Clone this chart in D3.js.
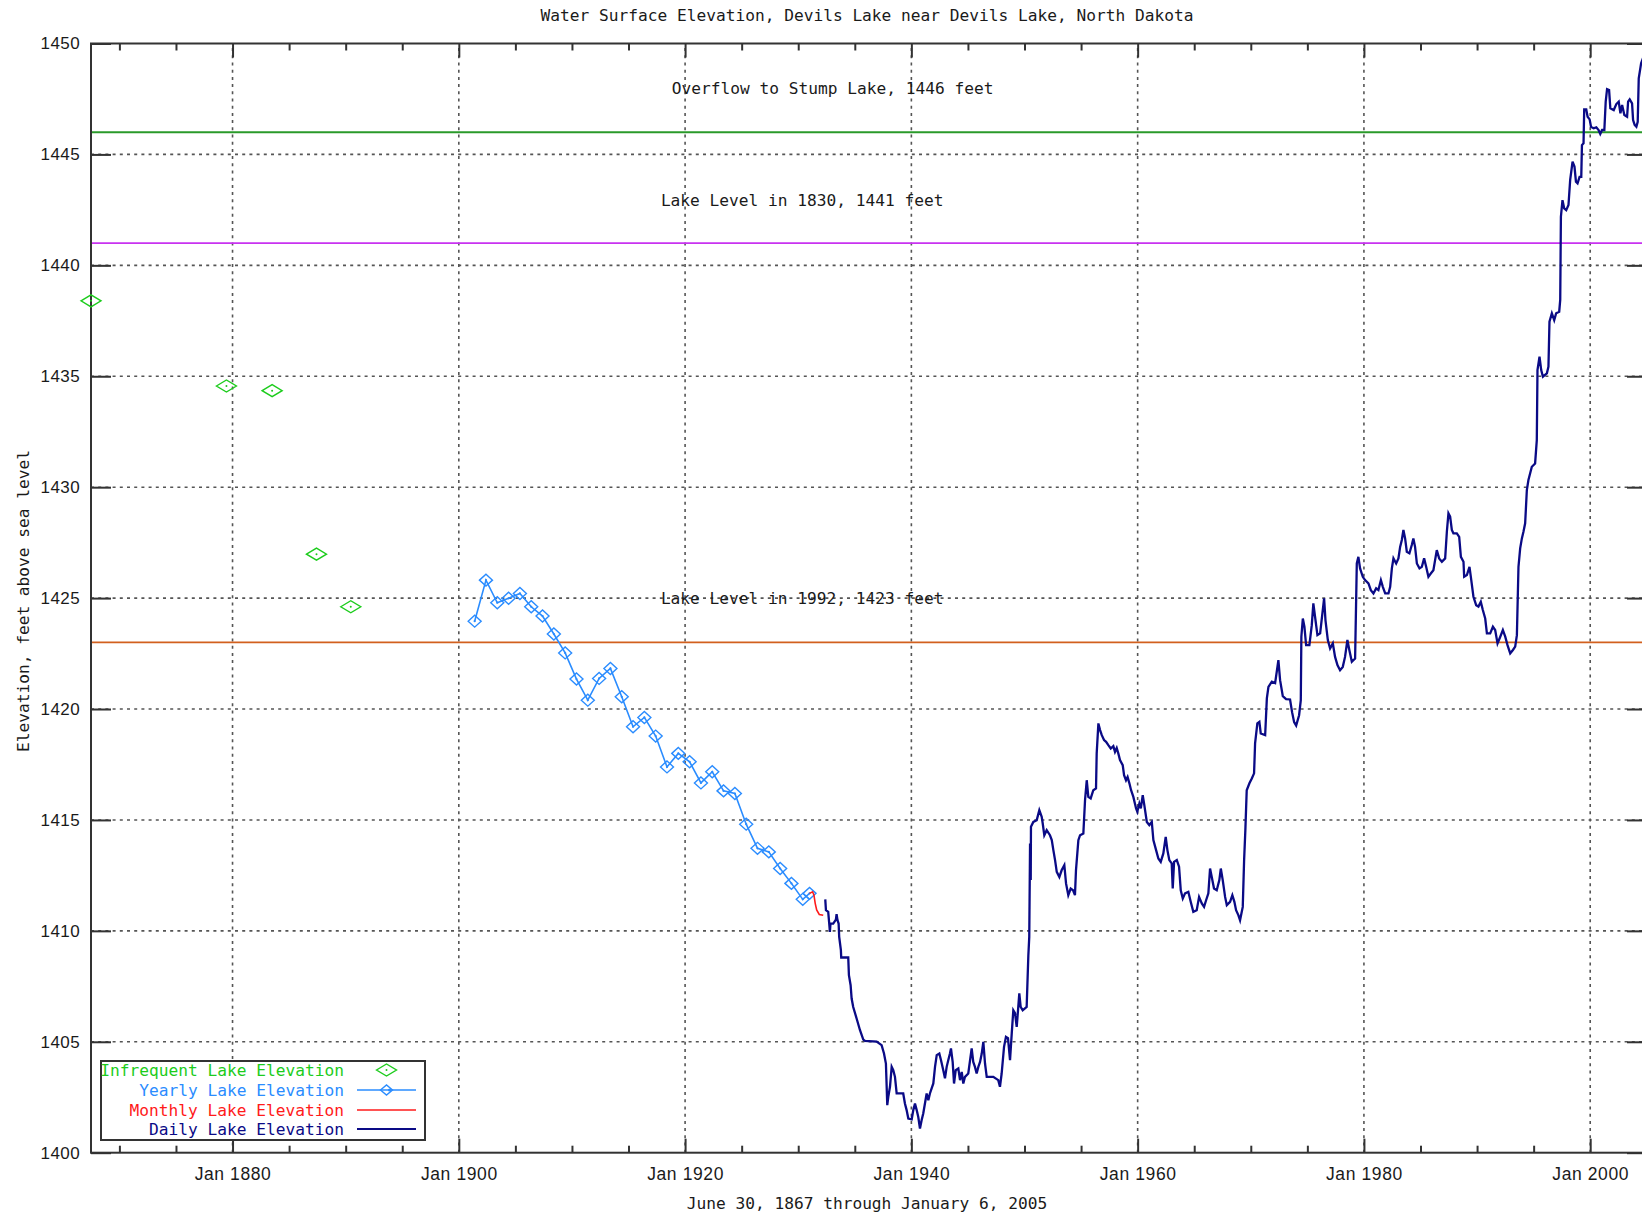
<!DOCTYPE html>
<html><head><meta charset="utf-8">
<script src="https://cdn.jsdelivr.net/npm/d3@7"></script>
<style>body{margin:0;background:#fff;overflow:hidden} svg{display:block}</style>
</head><body>
<svg id="chart" width="1642" height="1214"></svg>
<script>
// ---------------- DATA ----------------
const titleText = "Water Surface Elevation, Devils Lake near Devils Lake, North Dakota";
const xAxisTitle = "June 30, 1867 through January 6, 2005";
const yAxisTitle = "Elevation, feet above sea level";
const xDomain = [1867.49, 2005.02];           // June 30, 1867 .. January 6, 2005
const yDomain = [1400, 1450];
const xMajorTicks = [1880, 1900, 1920, 1940, 1960, 1980, 2000];
const xMinorTicks = [1870, 1875, 1885, 1890, 1895, 1905, 1910, 1915, 1925, 1930, 1935, 1945, 1950, 1955, 1965, 1970, 1975, 1985, 1990, 1995];
const yTicks = [1400, 1405, 1410, 1415, 1420, 1425, 1430, 1435, 1440, 1445, 1450];

const refLevels = [1446, 1441, 1423];
const refLabels = ["Overflow to Stump Lake, 1446 feet", "Lake Level in 1830, 1441 feet", "Lake Level in 1992, 1423 feet"];

const legendNames = ["Infrequent Lake Elevation", "Yearly Lake Elevation", "Monthly Lake Elevation", "Daily Lake Elevation"];

const infrequentYears = [1867.49, 1879.46, 1883.50, 1887.42, 1890.45];
const infrequentLevels = [1438.40, 1434.56, 1434.35, 1426.98, 1424.61];

const yearlyYears = [1901.4, 1902.4, 1903.4, 1904.4, 1905.4, 1906.4, 1907.4, 1908.4, 1909.4, 1910.4,
  1911.4, 1912.4, 1913.4, 1914.4, 1915.4, 1916.4, 1917.4, 1918.4, 1919.4, 1920.4,
  1921.4, 1922.4, 1923.4, 1924.4, 1925.4, 1926.4, 1927.4, 1928.4, 1929.4, 1930.4, 1931.0];
const yearlyLevels = [1423.96, 1425.81, 1424.79, 1424.99, 1425.21, 1424.61, 1424.19, 1423.38, 1422.53, 1421.35,
  1420.40, 1421.38, 1421.83, 1420.55, 1419.20, 1419.62, 1418.78, 1417.39, 1418.00, 1417.62,
  1416.67, 1417.17, 1416.31, 1416.19, 1414.81, 1413.72, 1413.56, 1412.81, 1412.14, 1411.42, 1411.69];

const monthlyYears = [1931.0, 1931.27, 1931.39, 1931.50, 1931.63, 1931.86, 1932.21];
const monthlyLevels = [1411.69, 1411.76, 1411.61, 1411.24, 1410.94, 1410.74, 1410.70];

const dailySeries = [
 [1932.39,1411.42],[1932.45,1410.93],[1932.65,1410.86],[1932.74,1410.33],[1932.80,1409.95],[1932.85,1410.33],
 [1933.09,1410.33],[1933.33,1410.51],[1933.39,1410.75],[1933.47,1410.48],[1933.57,1410.33],[1933.62,1409.73],
 [1933.77,1409.13],[1933.80,1408.80],[1934.42,1408.80],[1934.48,1408.00],[1934.63,1407.55],[1934.72,1406.95],
 [1934.86,1406.57],[1935.16,1406.05],[1935.46,1405.52],[1935.75,1405.10],[1935.90,1405.04],[1936.93,1405.01],
 [1937.37,1404.85],[1937.58,1404.47],[1937.75,1404.02],[1937.87,1402.14],[1937.96,1402.52],[1938.11,1402.97],
 [1938.26,1403.87],[1938.40,1403.72],[1938.55,1403.42],[1938.70,1402.67],[1939.28,1402.67],[1939.43,1402.22],
 [1939.58,1401.92],[1939.73,1401.54],[1940.03,1401.50],[1940.17,1401.92],[1940.32,1402.22],[1940.47,1401.92],
 [1940.61,1401.61],[1940.76,1401.09],[1940.91,1401.47],[1941.05,1401.77],[1941.35,1402.67],[1941.50,1402.37],
 [1941.64,1402.67],[1941.94,1403.12],[1942.09,1403.87],[1942.24,1404.40],[1942.47,1404.47],[1942.62,1404.17],
 [1942.82,1403.72],[1942.97,1403.35],[1943.12,1403.87],[1943.26,1404.17],[1943.41,1404.47],[1943.50,1404.70],
 [1943.65,1404.09],[1943.77,1403.12],[1943.92,1403.72],[1944.15,1403.80],[1944.30,1403.27],[1944.45,1403.64],
 [1944.59,1403.12],[1944.74,1403.42],[1945.03,1403.57],[1945.33,1404.70],[1945.47,1404.09],[1945.62,1403.87],
 [1945.77,1403.57],[1945.92,1403.87],[1946.07,1404.09],[1946.22,1404.47],[1946.36,1405.00],[1946.51,1404.02],
 [1946.66,1403.42],[1947.24,1403.42],[1947.68,1403.27],[1947.83,1402.97],[1947.98,1403.57],[1948.19,1404.77],
 [1948.36,1405.22],[1948.54,1405.16],[1948.72,1404.17],[1948.87,1405.37],[1949.01,1406.42],[1949.16,1406.29],
 [1949.31,1405.67],[1949.45,1406.57],[1949.54,1407.18],[1949.66,1406.57],[1949.84,1406.42],[1950.19,1406.57],
 [1950.34,1408.90],[1950.42,1409.73],[1950.49,1413.94],[1950.55,1412.29],[1950.57,1414.69],[1950.78,1414.91],
 [1951.08,1414.99],[1951.31,1415.44],[1951.52,1415.14],[1951.61,1414.84],[1951.75,1414.31],[1951.96,1414.54],
 [1952.25,1414.31],[1952.41,1414.09],[1952.55,1413.64],[1952.70,1413.19],[1952.85,1412.66],[1953.08,1412.43],
 [1953.29,1412.74],[1953.52,1412.96],[1953.67,1412.14],[1953.87,1411.61],[1954.08,1411.91],[1954.29,1411.83],
 [1954.46,1411.61],[1954.55,1412.74],[1954.76,1414.09],[1954.91,1414.31],[1955.20,1414.39],[1955.35,1415.89],
 [1955.50,1416.79],[1955.64,1416.04],[1955.85,1415.97],[1956.08,1416.34],[1956.32,1416.42],[1956.38,1418.00],
 [1956.53,1419.35],[1956.68,1419.05],[1956.83,1418.82],[1957.03,1418.60],[1957.21,1418.52],[1957.41,1418.37],
 [1957.62,1418.22],[1957.85,1418.33],[1958.00,1418.07],[1958.15,1418.24],[1958.29,1418.00],[1958.44,1417.70],
 [1958.68,1417.47],[1958.80,1417.02],[1958.97,1416.79],[1959.11,1416.94],[1959.27,1416.65],[1959.42,1416.34],
 [1959.62,1416.04],[1959.86,1415.52],[1959.97,1415.37],[1960.15,1415.74],[1960.28,1415.52],[1960.45,1416.12],
 [1960.59,1415.67],[1960.81,1414.91],[1961.03,1414.77],[1961.25,1414.91],[1961.39,1414.09],[1961.63,1413.64],
 [1961.83,1413.26],[1962.04,1413.11],[1962.27,1413.49],[1962.48,1414.24],[1962.63,1413.64],[1962.80,1413.19],
 [1963.01,1413.04],[1963.10,1411.91],[1963.22,1413.11],[1963.46,1413.19],[1963.66,1412.89],[1963.81,1411.83],
 [1963.99,1411.46],[1964.19,1411.69],[1964.48,1411.76],[1964.69,1411.31],[1964.92,1410.86],[1965.22,1410.93],
 [1965.43,1411.53],[1965.67,1411.24],[1965.87,1411.08],[1966.05,1411.38],[1966.25,1411.69],[1966.40,1412.81],
 [1966.55,1412.43],[1966.75,1411.91],[1966.99,1411.83],[1967.22,1412.29],[1967.35,1412.81],[1967.52,1412.29],
 [1967.73,1411.53],[1967.88,1411.16],[1968.17,1411.31],[1968.37,1411.61],[1968.55,1411.31],[1968.70,1410.93],
 [1968.90,1410.71],[1969.05,1410.48],[1969.29,1411.08],[1969.41,1413.19],[1969.52,1414.54],[1969.64,1416.34],
 [1969.88,1416.65],[1970.09,1416.87],[1970.29,1417.10],[1970.38,1418.45],[1970.58,1419.35],[1970.76,1419.42],
 [1970.88,1418.90],[1971.27,1418.82],[1971.42,1420.48],[1971.56,1421.00],[1971.86,1421.23],[1972.15,1421.17],
 [1972.44,1422.20],[1972.59,1421.30],[1972.83,1420.58],[1973.12,1420.45],[1973.47,1420.43],[1973.65,1419.86],
 [1973.83,1419.41],[1974.01,1419.25],[1974.27,1419.72],[1974.42,1420.40],[1974.47,1423.26],[1974.60,1424.08],
 [1974.74,1423.71],[1974.89,1422.88],[1975.18,1422.88],[1975.39,1423.78],[1975.53,1424.76],[1975.68,1424.16],
 [1975.89,1423.33],[1976.13,1423.41],[1976.33,1424.31],[1976.48,1424.99],[1976.60,1424.01],[1976.81,1423.11],
 [1977.01,1422.73],[1977.25,1422.96],[1977.45,1422.35],[1977.66,1421.98],[1977.89,1421.75],[1978.13,1421.90],
 [1978.33,1422.35],[1978.54,1423.11],[1978.71,1422.66],[1978.93,1422.13],[1979.22,1422.28],[1979.37,1426.56],
 [1979.51,1426.86],[1979.66,1426.34],[1979.90,1425.96],[1980.10,1425.81],[1980.40,1425.66],[1980.61,1425.36],
 [1980.84,1425.21],[1981.08,1425.44],[1981.28,1425.36],[1981.50,1425.81],[1981.67,1425.51],[1981.88,1425.21],
 [1982.17,1425.21],[1982.32,1425.51],[1982.47,1426.34],[1982.61,1426.79],[1982.85,1426.56],[1983.05,1426.79],
 [1983.20,1427.31],[1983.35,1427.62],[1983.49,1428.07],[1983.64,1427.69],[1983.79,1427.09],[1984.02,1427.02],
 [1984.23,1427.39],[1984.37,1427.69],[1984.52,1427.31],[1984.68,1426.56],[1984.91,1426.34],[1985.12,1426.41],
 [1985.32,1426.79],[1985.50,1426.41],[1985.70,1425.96],[1985.91,1426.11],[1986.14,1426.26],[1986.29,1426.71],
 [1986.44,1427.16],[1986.65,1426.79],[1986.89,1426.64],[1987.18,1426.79],[1987.33,1427.99],[1987.47,1428.82],
 [1987.62,1428.67],[1987.77,1428.07],[1987.91,1427.92],[1988.21,1427.92],[1988.42,1427.76],[1988.57,1426.86],
 [1988.80,1426.64],[1988.86,1425.96],[1989.10,1426.04],[1989.33,1426.41],[1989.45,1425.96],[1989.68,1425.06],
 [1989.92,1424.68],[1990.12,1424.62],[1990.33,1424.83],[1990.51,1424.46],[1990.72,1424.08],[1990.87,1423.41],
 [1991.16,1423.41],[1991.40,1423.71],[1991.60,1423.56],[1991.81,1422.96],[1992.05,1423.26],[1992.28,1423.56],
 [1992.49,1423.26],[1992.69,1422.88],[1992.93,1422.51],[1993.17,1422.66],[1993.37,1422.81],[1993.52,1423.33],
 [1993.66,1426.41],[1993.81,1427.24],[1993.96,1427.69],[1994.10,1427.99],[1994.25,1428.37],[1994.40,1429.87],
 [1994.54,1430.32],[1994.84,1430.92],[1995.13,1431.07],[1995.28,1432.12],[1995.34,1435.28],[1995.52,1435.88],
 [1995.67,1435.28],[1995.82,1434.98],[1996.17,1435.13],[1996.31,1435.43],[1996.40,1437.46],[1996.61,1437.84],
 [1996.82,1437.53],[1996.99,1437.84],[1997.26,1437.91],[1997.35,1438.44],[1997.41,1442.19],[1997.55,1442.94],
 [1997.70,1442.57],[1997.88,1442.49],[1998.08,1442.72],[1998.23,1443.85],[1998.44,1444.67],[1998.61,1444.45],
 [1998.74,1443.77],[1998.88,1443.70],[1999.06,1443.99],[1999.21,1443.99],[1999.27,1445.42],[1999.41,1445.50],
 [1999.47,1447.03],[1999.65,1447.03],[1999.77,1446.70],[1999.95,1446.58],[2000.07,1446.25],[2000.30,1446.18],
 [2000.54,1446.22],[2000.74,1446.10],[2000.89,1445.92],[2001.05,1446.10],[2001.25,1446.10],[2001.37,1447.38],
 [2001.49,1447.94],[2001.67,1447.90],[2001.78,1447.08],[2002.08,1447.00],[2002.31,1447.27],[2002.52,1447.38],
 [2002.67,1446.85],[2002.82,1447.23],[2003.02,1446.78],[2003.26,1446.70],[2003.35,1447.38],[2003.49,1447.48],
 [2003.70,1447.30],[2003.79,1446.55],[2003.93,1446.33],[2004.08,1446.25],[2004.20,1446.47],[2004.29,1448.43],
 [2004.50,1449.11],[2004.61,1449.26],[2005.01,1449.00]
];

// ---------------- LAYOUT / STYLE ----------------
const W = 1642, H = 1214;
const plot = {left: 91, right: 1647, top: 43.5, bottom: 1152.7};
const colors = {
  infrequent: "#1ccc1c", yearly: "#2a8cff", monthly: "#ff1a1a", daily: "#0a0a86",
  ref: ["#2a9a2a", "#c832f0", "#d2601e"], grid: "#555", axis: "#333", text: "#1a1a1a"
};
const monoFont = "'DejaVu Sans Mono', 'Liberation Mono', monospace";
const tickFont = "'Liberation Sans', Arial, sans-serif";
const refLabelAnchors = [{year: 1918.83, level: 1447.95}, {year: 1917.86, level: 1442.94}, {year: 1917.86, level: 1425.0}];

const svg = d3.select("#chart");
svg.append("rect").attr("width", W).attr("height", H).attr("fill", "#fff");

const x = d3.scaleLinear().domain(xDomain).range([plot.left, plot.right]);
const y = d3.scaleLinear().domain(yDomain).range([plot.bottom, plot.top]);

// grid
const grid = svg.append("g").attr("stroke", colors.grid).attr("stroke-width", 1.6).attr("stroke-dasharray", "3,4.2");
grid.selectAll("line.v").data(xMajorTicks).join("line")
  .attr("x1", d => x(d)).attr("x2", d => x(d)).attr("y1", plot.bottom).attr("y2", plot.top);
grid.selectAll("line.h").data(yTicks.filter(t => t > yDomain[0] && t < yDomain[1])).join("line")
  .attr("y1", d => y(d)).attr("y2", d => y(d)).attr("x1", plot.left).attr("x2", plot.right);

// reference lines
svg.append("g").selectAll("line").data(refLevels).join("line")
  .attr("x1", plot.left).attr("x2", plot.right)
  .attr("y1", d => y(d)).attr("y2", d => y(d))
  .attr("stroke", (d, i) => colors.ref[i]).attr("stroke-width", 1.8);

// reference labels
svg.append("g").selectAll("text").data(refLabels).join("text")
  .attr("x", (d, i) => x(refLabelAnchors[i].year))
  .attr("y", (d, i) => y(refLabelAnchors[i].level))
  .attr("dominant-baseline", "central")
  .attr("font-family", monoFont).attr("font-size", 16.2).attr("fill", colors.text)
  .text(d => d);

// axes (left, bottom, top, right borders) with d3 axes for ticks
const axisG = svg.append("g");
function styleAxis(g) {
  g.select(".domain").remove();
  g.selectAll(".tick line").attr("stroke", colors.axis).attr("stroke-width", 2);
}
// bottom major
const bottomMajor = axisG.append("g").attr("transform", `translate(0,${plot.bottom})`)
  .call(d3.axisBottom(x).tickValues(xMajorTicks).tickSize(-14).tickFormat(d => "Jan " + d).tickPadding(15));
styleAxis(bottomMajor);
bottomMajor.selectAll(".tick text").attr("font-family", tickFont).attr("font-size", 17.5).attr("fill", colors.text).attr("letter-spacing", 0.6);
const bottomMinor = axisG.append("g").attr("transform", `translate(0,${plot.bottom})`)
  .call(d3.axisBottom(x).tickValues(xMinorTicks).tickSize(-7).tickFormat(""));
styleAxis(bottomMinor);
const topMajor = axisG.append("g").attr("transform", `translate(0,${plot.top})`)
  .call(d3.axisTop(x).tickValues(xMajorTicks).tickSize(-14).tickFormat(""));
styleAxis(topMajor);
const topMinor = axisG.append("g").attr("transform", `translate(0,${plot.top})`)
  .call(d3.axisTop(x).tickValues(xMinorTicks).tickSize(-7).tickFormat(""));
styleAxis(topMinor);
const leftAx = axisG.append("g").attr("transform", `translate(${plot.left},0)`)
  .call(d3.axisLeft(y).tickValues(yTicks).tickSize(-20).tickFormat(d3.format("d")).tickPadding(11));
styleAxis(leftAx);
leftAx.selectAll(".tick text").attr("font-family", tickFont).attr("font-size", 17).attr("fill", colors.text).attr("letter-spacing", 0.4);
const rightAx = axisG.append("g").attr("transform", `translate(${plot.right},0)`)
  .call(d3.axisRight(y).tickValues(yTicks).tickSize(-20).tickFormat(""));
styleAxis(rightAx);

// border
axisG.append("rect").attr("x", plot.left).attr("y", plot.top)
  .attr("width", plot.right - plot.left).attr("height", plot.bottom - plot.top)
  .attr("fill", "none").attr("stroke", colors.axis).attr("stroke-width", 2);

// diamond path generator (width 2*hw, height 2*hh) centred on (cx, cy)
function diamond(cx, cy, hw, hh) {
  return `M${cx - hw},${cy}L${cx},${cy - hh}L${cx + hw},${cy}L${cx},${cy + hh}Z`;
}

// yearly series
const yearlyData = yearlyYears.map((t, i) => ({t, v: yearlyLevels[i]}));
const lineGen = d3.line().x(d => x(d.t)).y(d => y(d.v));
svg.append("path").datum(yearlyData).attr("d", lineGen)
  .attr("fill", "none").attr("stroke", colors.yearly).attr("stroke-width", 1.6);
const yG = svg.append("g");
yG.selectAll("path").data(yearlyData).join("path")
  .attr("d", d => diamond(x(d.t), y(d.v), 6.5, 6))
  .attr("fill", "none").attr("stroke", colors.yearly).attr("stroke-width", 1.4);
yG.selectAll("circle").data(yearlyData).join("circle")
  .attr("cx", d => x(d.t)).attr("cy", d => y(d.v)).attr("r", 1.1).attr("fill", colors.yearly);

// monthly
const monthlyData = monthlyYears.map((t, i) => ({t, v: monthlyLevels[i]}));
svg.append("path").datum(monthlyData).attr("d", lineGen)
  .attr("fill", "none").attr("stroke", colors.monthly).attr("stroke-width", 1.6);

// daily
const dailyData = dailySeries.map(([t, v]) => ({t, v}));
svg.append("path").datum(dailyData).attr("d", lineGen)
  .attr("fill", "none").attr("stroke", colors.daily).attr("stroke-width", 2.3).attr("stroke-linejoin", "miter");

// infrequent
const infData = infrequentYears.map((t, i) => ({t, v: infrequentLevels[i]}));
const iG = svg.append("g");
iG.selectAll("path").data(infData).join("path")
  .attr("d", d => diamond(x(d.t), y(d.v), 10, 6))
  .attr("fill", "none").attr("stroke", colors.infrequent).attr("stroke-width", 1.4);
iG.selectAll("circle").data(infData).join("circle")
  .attr("cx", d => x(d.t)).attr("cy", d => y(d.v)).attr("r", 1).attr("fill", colors.infrequent);

// titles
svg.append("text").attr("x", 867).attr("y", 15).attr("text-anchor", "middle").attr("dominant-baseline", "central")
  .attr("font-family", monoFont).attr("font-size", 16.2).attr("fill", colors.text).text(titleText);
svg.append("text").attr("x", 867).attr("y", 1203).attr("text-anchor", "middle").attr("dominant-baseline", "central")
  .attr("font-family", monoFont).attr("font-size", 16.2).attr("fill", colors.text).text(xAxisTitle);
svg.append("text").attr("transform", "translate(23,601) rotate(-90)").attr("text-anchor", "middle").attr("dominant-baseline", "central")
  .attr("font-family", monoFont).attr("font-size", 16.2).attr("fill", colors.text).text(yAxisTitle);

// legend
const legend = {x0: 101, y0: 1061, x1: 425, y1: 1140, textRight: 344, sx0: 357, sx1: 416, rows: [1070, 1090, 1110, 1129]};
const lg = svg.append("g");
lg.append("rect").attr("x", legend.x0).attr("y", legend.y0).attr("width", legend.x1 - legend.x0).attr("height", legend.y1 - legend.y0)
  .attr("fill", "#fff").attr("stroke", colors.axis).attr("stroke-width", 2);
const legendColors = [colors.infrequent, colors.yearly, colors.monthly, colors.daily];
lg.selectAll("text").data(legendNames).join("text")
  .attr("x", legend.textRight).attr("y", (d, i) => legend.rows[i]).attr("text-anchor", "end").attr("dominant-baseline", "central")
  .attr("font-family", monoFont).attr("font-size", 16.2).attr("fill", (d, i) => legendColors[i]).text(d => d);
const sampleCx = (legend.sx0 + legend.sx1) / 2;
lg.append("path").attr("d", diamond(sampleCx, legend.rows[0], 10, 6)).attr("fill", "none").attr("stroke", colors.infrequent).attr("stroke-width", 1.4);
lg.append("circle").attr("cx", sampleCx).attr("cy", legend.rows[0]).attr("r", 1).attr("fill", colors.infrequent);
[1, 2, 3].forEach(i => {
  lg.append("line").attr("x1", legend.sx0).attr("x2", legend.sx1).attr("y1", legend.rows[i]).attr("y2", legend.rows[i])
    .attr("stroke", legendColors[i]).attr("stroke-width", i === 3 ? 2.2 : 1.6);
});
lg.append("path").attr("d", diamond(sampleCx, legend.rows[1], 6, 5)).attr("fill", "none").attr("stroke", colors.yearly).attr("stroke-width", 1.4);
lg.append("circle").attr("cx", sampleCx + 3).attr("cy", legend.rows[1]).attr("r", 1.5).attr("fill", colors.yearly);
</script>
</body></html>
